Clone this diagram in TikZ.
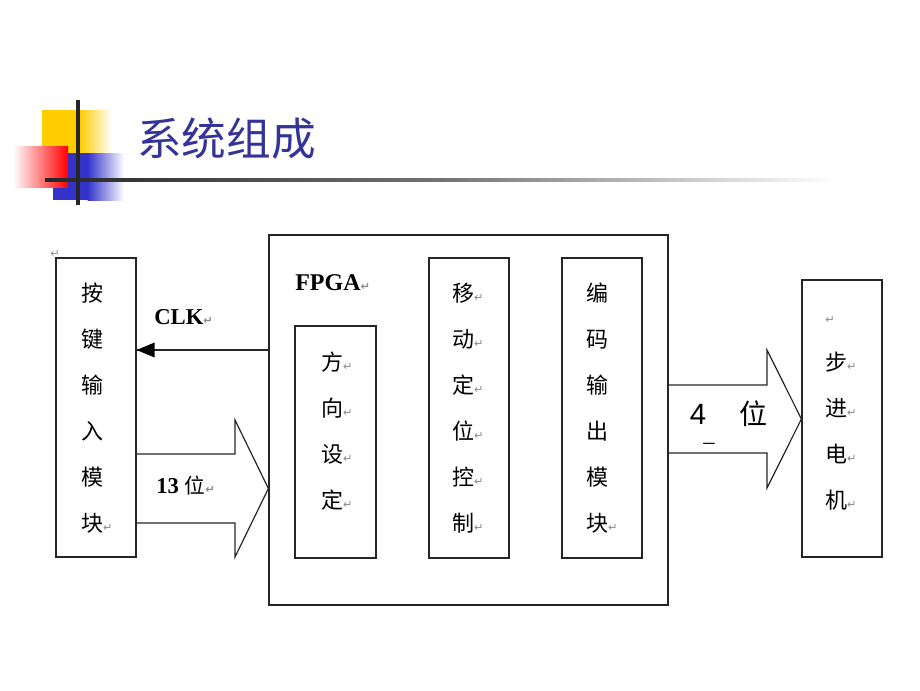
\documentclass[tikz,border=0pt]{standalone}
\usepackage{fontspec}
\setmainfont{Liberation Serif}
\newfontfamily\cjk{Noto Sans CJK SC}
\newfontfamily\symf{DejaVu Sans}
\newfontfamily\sansf{Liberation Sans}
\usetikzlibrary{calc}
\definecolor{titleblue}{RGB}{51,51,153}
\definecolor{decoyellow}{RGB}{255,204,0}
\definecolor{decoblue}{RGB}{51,51,204}
\definecolor{decored}{RGB}{255,0,0}
\newcommand{\retm}{{\symf\color{black!45}\fontsize{8.5}{8.5}\selectfont ↵}}
\newcommand{\rr}{\rlap{\retm}}
\tikzset{
  box/.style={draw=black!85, line width=0.9pt, fill=white, inner sep=0pt},
  coltext/.style={inner sep=0pt, align=center, font=\cjk\fontsize{16.5}{34.5}\selectfont},
  lbl/.style={inner sep=0pt},
  blockarrow/.style={draw=black!85, line width=0.9pt, fill=white},
  retnode/.style={inner sep=0pt}
}
\begin{document}
\begin{tikzpicture}[x=0.75pt,y=-0.75pt]
\useasboundingbox (0,0) rectangle (920,690);
% ---- title decoration ----
\fill[decoyellow] (42,110) rectangle (80,153);
\shade[left color=decoyellow, right color=white] (79.5,110) rectangle (112,153);
\fill[decoblue] (53,153) rectangle (88,200);
\shade[left color=decoblue, right color=white] (87.5,153) rectangle (124,200);
\shade[left color=white, right color=decored] (13,146) rectangle (68,187);
\shade[left color=black!85, right color=white, middle color=black!55] (45,178.3) rectangle (835,181.7);
\draw[line width=2.4pt, black!85] (78,100) -- (78,205);
\node[lbl, anchor=west, text=titleblue, font=\cjk\fontsize{33.5}{33.5}\selectfont] (title) at (137,139) {系统组成};
% ---- boxes ----
\node[box, minimum width=80*0.75pt, minimum height=299*0.75pt] (keys) at (96,407.5) {};
\node[box, minimum width=399*0.75pt, minimum height=370*0.75pt] (fpga) at (468.5,420) {};
\node[box, minimum width=81*0.75pt, minimum height=232*0.75pt] (dir) at (335.5,442) {};
\node[box, minimum width=80*0.75pt, minimum height=300*0.75pt] (move) at (469,408) {};
\node[box, minimum width=80*0.75pt, minimum height=300*0.75pt] (enc) at (602,408) {};
\node[box, minimum width=80*0.75pt, minimum height=277*0.75pt] (motor) at (842,418.5) {};
% ---- column texts ----
\node[coltext] (keystxt) at (92,408) {按\\键\\输\\入\\模\\块\rr};
\node[coltext] (dirtxt) at (332,431) {方\rr\\向\rr\\设\rr\\定\rr};
\node[coltext] (movetxt) at (463,408) {移\rr\\动\rr\\定\rr\\位\rr\\控\rr\\制\rr};
\node[coltext] (enctxt) at (597,408) {编\\码\\输\\出\\模\\块\rr};
\node[coltext] (motortxt) at (836,431) {步\rr\\进\rr\\电\rr\\机\rr};
\node[retnode] (m1) at (55,254) {\retm};
\node[retnode] (m2) at (830,320) {\retm};
\node[lbl, anchor=west, font=\bfseries\fontsize{18}{18}\selectfont] (fpgalbl) at (295,283) {FPGA\rr};
% ---- CLK arrow ----
\coordinate (clkstart) at ($(fpga.west)+(0,-70)$);
\draw[line width=1.1pt, black!85] (clkstart) -- (clkstart -| keys.east) coordinate (clkend);
\fill[black] (clkend) -- ++(18,-7.5) -- ++(0,15) -- cycle;
\node[lbl, anchor=west, font=\bfseries\fontsize{17}{17}\selectfont] (clk) at (154,317) {CLK\rr};
% ---- 13 bit block arrow ----
\coordinate (a1) at (keys.east |- 0,454);
\draw[blockarrow] (a1) -- (235,454) -- (235,420) -- (fpga.west |- 0,488.5) -- (235,557) -- (235,523) -- (a1 |- 0,523);
\draw[line width=0.9pt, black!85] (keys.north east) -- (keys.south east);
\node[lbl, anchor=west] (b13) at (156,486) {\bfseries\fontsize{17}{17}\selectfont 13 {\cjk\mdseries\fontsize{15.5}{15.5}\selectfont 位}\rr};
% ---- 4 bit block arrow ----
\coordinate (c1) at (fpga.east |- 0,385);
\draw[blockarrow] (c1) -- (767,385) -- (767,350) -- (motor.west |- 0,419) -- (767,488) -- (767,453) -- (c1 |- 0,453);
\draw[line width=0.9pt, black!85] (fpga.north east) -- (fpga.south east);
\node[lbl, font=\sansf\fontsize{22}{22}\selectfont] (four) at (698,414) {4};
\node[lbl, font=\cjk\fontsize{21}{21}\selectfont] (wei) at (753,414) {位};
\node[lbl, font=\fontsize{17}{17}\selectfont] (uscore) at (709,443) {\_};
\end{tikzpicture}
\end{document}
